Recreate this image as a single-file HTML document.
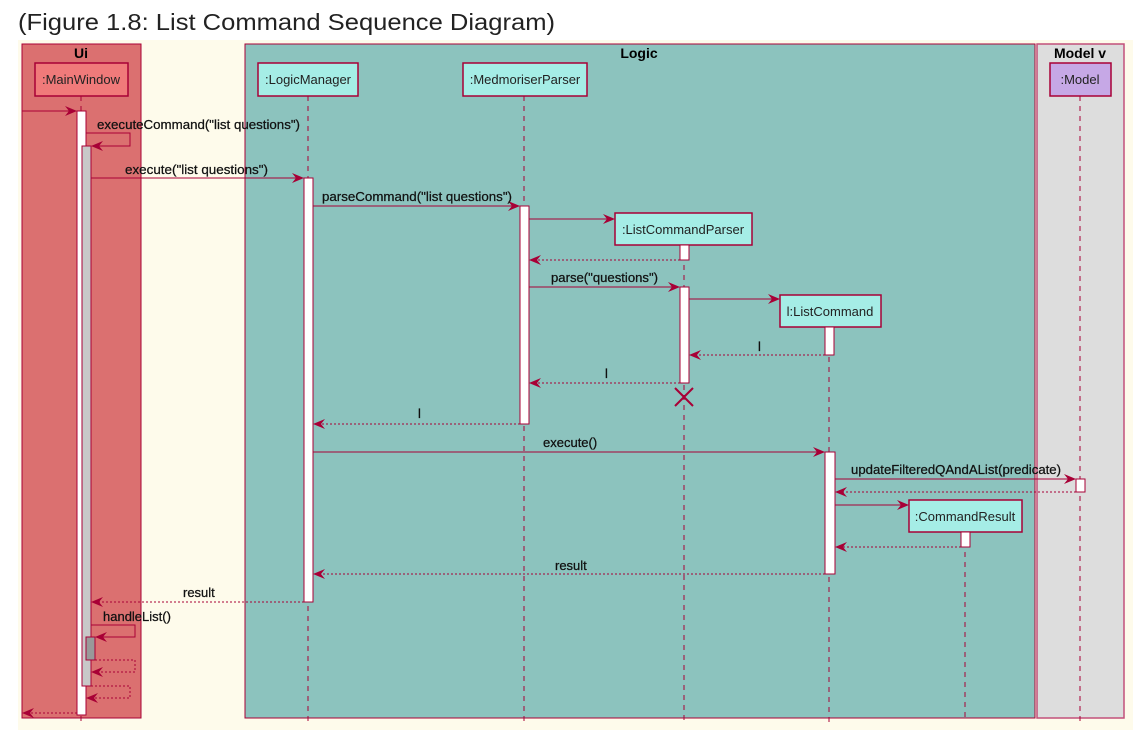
<!DOCTYPE html>
<html><head><meta charset="utf-8"><style>
body{margin:0;background:#fff;width:1142px;height:730px;overflow:hidden}
svg{display:block}
text{font-family:"Liberation Sans",sans-serif}
</style></head><body>
<svg width="1142" height="730" viewBox="0 0 1142 730" xmlns="http://www.w3.org/2000/svg">
<defs>
<marker id="a" markerWidth="12" markerHeight="10" refX="11" refY="5" orient="auto" markerUnits="userSpaceOnUse">
<path d="M0,0 L12,5 L0,10 L4,5 z" fill="#A80036"/></marker>
</defs>
<text x="18" y="30" font-size="23" fill="#222" textLength="537" lengthAdjust="spacingAndGlyphs">(Figure 1.8: List Command Sequence Diagram)</text>
<rect x="18" y="40" width="1115" height="690" fill="#FEFBEB"/>
<rect x="22" y="44" width="119" height="674" fill="#DB7070" stroke="#A80036" stroke-width="1"/>
<rect x="245" y="44" width="790" height="674" fill="#8CC3BE" stroke="#A80036" stroke-width="1"/>
<rect x="1037" y="44" width="87" height="674" fill="#DDDDDD" stroke="#C2507A" stroke-width="1.5"/>
<g font-weight="bold" font-size="14" fill="#000" text-anchor="middle">
<text x="81" y="58">Ui</text><text x="639" y="58">Logic</text><text x="1080" y="58">Model v</text></g>
<g stroke="#A80036" stroke-dasharray="5,5" stroke-width="1">
<line x1="81" y1="96" x2="81" y2="722"/><line x1="308" y1="96" x2="308" y2="722"/>
<line x1="524" y1="96" x2="524" y2="722"/><line x1="684" y1="245" x2="684" y2="722"/>
<line x1="829" y1="327" x2="829" y2="722"/><line x1="965" y1="532" x2="965" y2="722"/>
<line x1="1080" y1="96" x2="1080" y2="722"/></g>
<g stroke="#A80036" stroke-width="1.5" font-size="13" text-anchor="middle" fill="#000">
<rect x="35" y="63" width="93" height="33" fill="#F07A7A"/>
<rect x="258" y="63" width="100" height="33" fill="#A5EDE6"/>
<rect x="463" y="63" width="124" height="33" fill="#A5EDE6"/>
<rect x="615" y="213" width="137" height="32" fill="#A5EDE6"/>
<rect x="780" y="295" width="101" height="32" fill="#A5EDE6"/>
<rect x="909" y="500" width="113" height="32" fill="#A5EDE6"/>
<rect x="1050" y="63" width="61" height="33" fill="#C6A8E6"/>
</g>
<g font-size="13" text-anchor="middle" fill="#222">
<text x="81" y="84">:MainWindow</text><text x="308" y="84">:LogicManager</text>
<text x="525" y="84">:MedmoriserParser</text><text x="683" y="234">:ListCommandParser</text>
<text x="830" y="316">l:ListCommand</text><text x="965" y="521">:CommandResult</text>
<text x="1080" y="84">:Model</text></g>
<g stroke="#A80036" stroke-width="1">
<rect x="77" y="111" width="9" height="604" fill="#fff"/>
<rect x="82" y="146" width="9" height="540" fill="#C8C8C8"/>
<rect x="86" y="637" width="9" height="23" fill="#999"/>
<rect x="304" y="178" width="9" height="424" fill="#fff"/>
<rect x="520" y="206" width="9" height="218" fill="#fff"/>
<rect x="680" y="245" width="9" height="15" fill="#fff"/>
<rect x="680" y="287" width="9" height="96" fill="#fff"/>
<rect x="825" y="327" width="9" height="28" fill="#fff"/>
<rect x="825" y="452" width="10" height="122" fill="#fff"/>
<rect x="1076" y="479" width="9" height="13" fill="#fff"/>
<rect x="961" y="532" width="9" height="15" fill="#fff"/>
</g>
<g stroke="#A80036" stroke-width="1" fill="none" marker-end="url(#a)">
<line x1="22" y1="111" x2="76" y2="111"/>
<polyline points="86,133 130,133 130,146 92,146"/>
<line x1="91" y1="178" x2="303" y2="178"/>
<line x1="313" y1="206" x2="519" y2="206"/>
<line x1="529" y1="219" x2="614" y2="219"/>
<line x1="529" y1="287" x2="679" y2="287"/>
<line x1="689" y1="299" x2="779" y2="299"/>
<line x1="313" y1="452" x2="824" y2="452"/>
<line x1="835" y1="479" x2="1075" y2="479"/>
<line x1="835" y1="505" x2="908" y2="505"/>
<polyline points="91,625 135,625 135,637 96,637"/>
</g>
<g stroke="#A80036" stroke-width="1" fill="none" stroke-dasharray="2,2" marker-end="url(#a)">
<line x1="680" y1="260" x2="530" y2="260"/>
<line x1="825" y1="355" x2="690" y2="355"/>
<line x1="680" y1="383" x2="530" y2="383"/>
<line x1="520" y1="424" x2="314" y2="424"/>
<line x1="1076" y1="492" x2="836" y2="492"/>
<line x1="961" y1="547" x2="836" y2="547"/>
<line x1="825" y1="574" x2="314" y2="574"/>
<line x1="304" y1="602" x2="92" y2="602"/>
<polyline points="95,660 135,660 135,672 92,672"/>
<polyline points="91,686 130,686 130,698 87,698"/>
<line x1="77" y1="713" x2="23" y2="713"/>
</g>
<g stroke="#A80036" stroke-width="2"><line x1="675" y1="388" x2="693" y2="406"/><line x1="693" y1="388" x2="675" y2="406"/></g>
<g font-size="13" fill="#111" stroke="#111" stroke-width="0.25">
<text x="97" y="129" textLength="203" lengthAdjust="spacingAndGlyphs">executeCommand("list questions")</text>
<text x="125" y="174" textLength="143" lengthAdjust="spacingAndGlyphs">execute("list questions")</text>
<text x="322" y="201" textLength="190" lengthAdjust="spacingAndGlyphs">parseCommand("list questions")</text>
<text x="551" y="282" textLength="107" lengthAdjust="spacingAndGlyphs">parse("questions")</text>
<text x="758" y="351">l</text>
<text x="605" y="378">l</text>
<text x="418" y="418">l</text>
<text x="543" y="447">execute()</text>
<text x="851" y="474" textLength="210" lengthAdjust="spacingAndGlyphs">updateFilteredQAndAList(predicate)</text>
<text x="555" y="570">result</text>
<text x="183" y="597">result</text>
<text x="103" y="621">handleList()</text>
</g>
</svg>
</body></html>
